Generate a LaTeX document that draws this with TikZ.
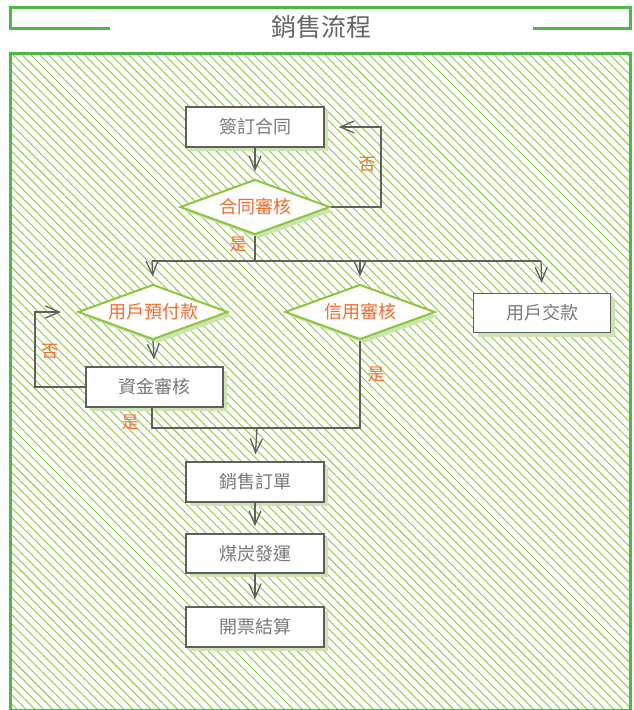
\documentclass[tikz,border=0pt]{standalone}
\usepackage{fontspec}
\setmainfont{Noto Sans CJK TC}
\usetikzlibrary{arrows.meta,shapes.geometric,shadows,patterns.meta}
\definecolor{framegreen}{RGB}{76,184,72}
\definecolor{hatchgreen}{RGB}{140,198,63}
\definecolor{shadegreen}{RGB}{204,228,178}
\definecolor{linegray}{RGB}{95,95,95}
\definecolor{boxtext}{RGB}{120,120,120}
\definecolor{orangetext}{RGB}{242,107,45}
\definecolor{titlegray}{RGB}{100,100,100}
\tikzset{
  frameline/.style={draw=framegreen, line width=3pt},
  procbox/.style={rectangle, draw=linegray, line width=1.4pt, fill=white,
    minimum width=138pt, minimum height=40pt, inner sep=0pt,
    text=boxtext, font=\fontsize{18}{20}\selectfont,
    drop shadow={shadow xshift=4pt, shadow yshift=-4pt, fill=shadegreen, opacity=1}},
  decide/.style={diamond, draw=hatchgreen, line width=2pt, fill=white,
    minimum width=150pt, minimum height=55pt, inner sep=0pt, aspect=2.7,
    text=orangetext, font=\fontsize{18}{20}\selectfont,
    drop shadow={shadow xshift=4pt, shadow yshift=-4pt, fill=shadegreen, opacity=1}},
  conn/.style={draw=linegray, line width=1.3pt},
  arr/.style={conn, -{Straight Barb[length=14pt,width=12pt,line width=1.3pt]}, shorten >=7pt},
  lbl/.style={text=orangetext, font=\fontsize{17}{19}\selectfont, inner sep=0pt},
}
\begin{document}
\begin{tikzpicture}[x=1pt,y=-1pt]
\useasboundingbox (0,0) rectangle (633,710);
% title frame
\draw[frameline] (110,28) -- (10,28) -- (10,7) -- (630,7) -- (630,28) -- (533,28);
\node[text=titlegray, font=\fontsize{25}{27}\selectfont] (title) at (321,27) {銷售流程};
% main hatched area
\draw[frameline, pattern={Lines[angle=-45,distance=6.3pt,line width=0.9pt]}, pattern color=hatchgreen] (10,53) rectangle (630,710);
% nodes
\node[procbox] (s1) at (255,127) {簽訂合同};
\node[decide] (d1) at (255,207) {合同審核};
\node[decide] (d2) at (153,312) {用戶預付款};
\node[decide] (d3) at (360,312) {信用審核};
\node[procbox, minimum width=137pt, minimum height=39pt] (b4) at (542,313) {用戶交款};
\node[procbox, minimum width=137pt] (b2) at (154.5,387) {資金審核};
\node[procbox] (b5) at (255,482) {銷售訂單};
\node[procbox, minimum height=39pt] (b6) at (255,553.5) {煤炭發運};
\node[procbox] (b7) at (255,627) {開票結算};
% coordinates
\coordinate (split) at (255,261);
\coordinate (sl) at (152,261);
\coordinate (sm) at (360,261);
\coordinate (sr) at (541,261);
\coordinate (loopr) at (381,207);
\coordinate (loopl) at (35,387);
\coordinate (mergel) at (152,428);
\coordinate (merger) at (360,428);
\coordinate (merge) at (257,428);
% connectors
\draw[arr] (s1.south) -- (d1.north);
\draw[arr, shorten >=14pt] (d1.east) -- (loopr) |- (s1.east);
\draw[conn] (d1.south) -- (split);
\draw[conn] (sl) -- (sr);
\draw[arr] (sl) -- (d2.north);
\draw[arr] (sm) -- (d3.north);
\draw[arr, shorten >=10pt] (sr) -- (b4.north);
\draw[arr] (d2.south) -- (b2.north);
\draw[arr, shorten >=16pt] (b2.west) -- (loopl) |- (d2.west);
\draw[conn] (b2.south -| mergel) -- (mergel) -- (merger) -- (d3.south);
\draw[arr] (merge) -- (b5.north);
\draw[arr] (b5.south) -- (b6.north);
\draw[arr] (b6.south) -- (b7.north);
% labels
\node[lbl] (n1) at (367,165) {否};
\node[lbl] (y1) at (238,244) {是};
\node[lbl] (n2) at (50,352) {否};
\node[lbl] (y2) at (130,422) {是};
\node[lbl] (y3) at (376,374) {是};
\end{tikzpicture}
\end{document}
